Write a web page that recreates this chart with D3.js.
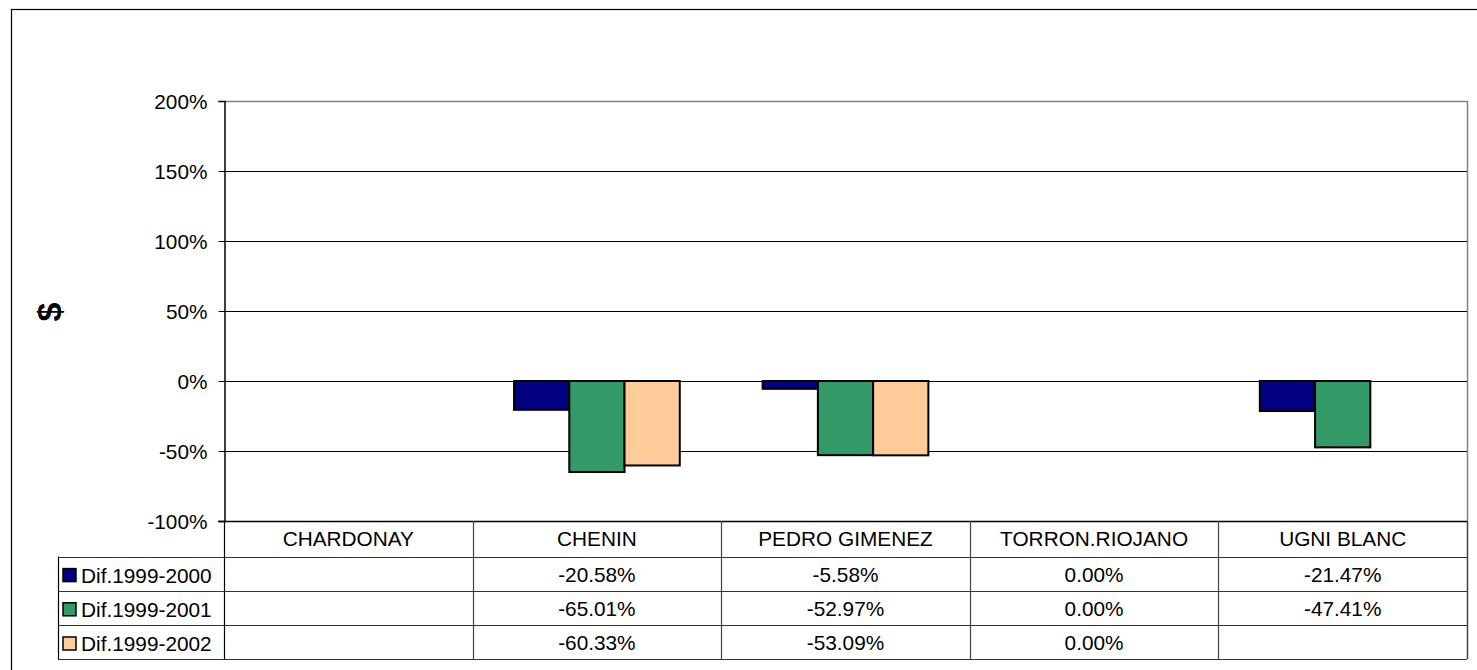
<!DOCTYPE html>
<html>
<head>
<meta charset="utf-8">
<script src="https://cdn.jsdelivr.net/npm/d3@7"></script>
<style>
  body { margin: 0; background: #fff; }
  svg { display: block; font-family: "Liberation Sans", Arial, sans-serif; }
</style>
</head>
<body>
<script>
// datos
var categories = ["CHARDONAY", "CHENIN", "PEDRO GIMENEZ", "TORRON.RIOJANO", "UGNI BLANC"];
var seriesNames = ["Dif.1999-2000", "Dif.1999-2001", "Dif.1999-2002"];
var dif2000 = [null, -20.58, -5.58, 0.00, -21.47];
var dif2001 = [null, -65.01, -52.97, 0.00, -47.41];
var dif2002 = [null, -60.33, -53.09, 0.00, null];
var yTicks = [-100, -50, 0, 50, 100, 150, 200];
var colors = ["#000080", "#339966", "#FFCC99"];

var values = [dif2000, dif2001, dif2002];

var W = 1477, H = 670;
var plot = {left: 224, right: 1467, top: 101, bottom: 521};
var rowH = 34.2, headerH = 35.5, legendLeft = 58;
var fs = 20.8;

var svg = d3.select("body").append("svg")
    .attr("width", W)
    .attr("height", H);

// marco exterior
svg.append("rect")
    .attr("x", 11.5).attr("y", 9.5)
    .attr("width", W + 20).attr("height", H + 20)
    .attr("fill", "none").attr("stroke", "#000").attr("stroke-width", 1.2);

var x0 = d3.scaleBand()
    .domain(categories)
    .range([plot.left, plot.right]);

var x1 = d3.scaleBand()
    .domain(seriesNames)
    .range([0, x0.bandwidth()])
    .paddingInner(0)
    .paddingOuter(0.75);

var y = d3.scaleLinear()
    .domain([-100, 200])
    .range([plot.bottom, plot.top]);

// borde gris del area
svg.append("path")
    .attr("d", "M" + plot.left + "," + (plot.top + 0.5) + "H" + (plot.right + 0.5) + "V" + plot.bottom)
    .attr("fill", "none").attr("stroke", "#808080").attr("stroke-width", 1.5);

// lineas de grilla
svg.append("g")
    .selectAll("line")
    .data(yTicks.filter(function(t) { return t > -100 && t < 200; }))
    .enter().append("line")
    .attr("x1", plot.left).attr("x2", plot.right)
    .attr("y1", function(d) { return Math.round(y(d)) + 0.5; })
    .attr("y2", function(d) { return Math.round(y(d)) + 0.5; })
    .attr("stroke", "#000").attr("stroke-width", 1);

// eje y
var yAxis = d3.axisLeft(y)
    .tickValues(yTicks)
    .tickSize(6)
    .tickPadding(11)
    .tickFormat(function(d) { return d + "%"; });

var gy = svg.append("g")
    .attr("transform", "translate(" + (plot.left + 0.5) + ",0)")
    .call(yAxis);
gy.select(".domain").attr("stroke", "#000").attr("stroke-width", 1.5);
gy.selectAll(".tick line").attr("stroke", "#000");
gy.selectAll(".tick text")
    .attr("fill", "#000")
    .style("font-size", fs + "px")
    .attr("dy", "0.36em");

// barras
var groups = svg.append("g")
    .selectAll("g")
    .data(seriesNames)
    .enter().append("g")
    .attr("fill", function(d, i) { return colors[i]; });

groups.selectAll("rect")
    .data(function(s, si) {
        return categories.map(function(c, ci) { return {cat: c, s: s, v: values[si][ci]}; })
            .filter(function(d) { return d.v !== null && d.v !== 0; });
    })
    .enter().append("rect")
    .attr("x", function(d) { return x0(d.cat) + x1(d.s); })
    .attr("width", x1.bandwidth())
    .attr("y", function(d) { return Math.min(y(0), y(d.v)); })
    .attr("height", function(d) { return Math.abs(y(d.v) - y(0)); })
    .attr("stroke", "#000")
    .attr("stroke-width", 2);

// eje inferior (-100%)
svg.append("line")
    .attr("x1", plot.left - 6).attr("x2", plot.right)
    .attr("y1", plot.bottom + 0.5).attr("y2", plot.bottom + 0.5)
    .attr("stroke", "#000").attr("stroke-width", 1.5);

// titulo eje y
svg.append("text")
    .attr("transform", "translate(49,312) rotate(-90)")
    .attr("text-anchor", "middle")
    .attr("dy", "0.35em")
    .style("font-size", "34px")
    .style("font-weight", "bold")
    .text("$");

// tabla de datos
var table = svg.append("g");
var tableTop = plot.bottom;
var rowsTop = tableTop + headerH;

// encabezados de categoria
table.selectAll(".cat")
    .data(categories)
    .enter().append("text")
    .attr("class", "cat")
    .attr("x", function(d) { return x0(d) + x0.bandwidth() / 2; })
    .attr("y", tableTop + headerH / 2)
    .attr("dy", "0.36em")
    .attr("text-anchor", "middle")
    .style("font-size", fs + "px")
    .text(function(d) { return d; });

// separadores verticales
table.selectAll(".vsep")
    .data(categories.slice(1))
    .enter().append("line")
    .attr("x1", function(d) { return Math.round(x0(d)) + 0.5; })
    .attr("x2", function(d) { return Math.round(x0(d)) + 0.5; })
    .attr("y1", tableTop)
    .attr("y2", rowsTop + 3 * rowH)
    .attr("stroke", "#444").attr("stroke-width", 1.2);

table.append("line")
    .attr("x1", plot.right + 0.5).attr("x2", plot.right + 0.5)
    .attr("y1", tableTop).attr("y2", rowsTop + 3 * rowH)
    .attr("stroke", "#444").attr("stroke-width", 1.5);
table.append("line")
    .attr("x1", plot.left + 0.5).attr("x2", plot.left + 0.5)
    .attr("y1", tableTop).attr("y2", rowsTop + 3 * rowH)
    .attr("stroke", "#000").attr("stroke-width", 1.2);
table.append("line")
    .attr("x1", legendLeft + 0.5).attr("x2", legendLeft + 0.5)
    .attr("y1", rowsTop).attr("y2", rowsTop + 3 * rowH)
    .attr("stroke", "#000").attr("stroke-width", 1.2);

// lineas horizontales
table.selectAll(".hsep")
    .data([0, 1, 2, 3])
    .enter().append("line")
    .attr("x1", legendLeft).attr("x2", plot.right)
    .attr("y1", function(d) { return Math.round(rowsTop + d * rowH) + 0.5; })
    .attr("y2", function(d) { return Math.round(rowsTop + d * rowH) + 0.5; })
    .attr("stroke", "#333").attr("stroke-width", 1.2);

// filas
var rows = table.selectAll(".row")
    .data(seriesNames)
    .enter().append("g")
    .attr("class", "row")
    .attr("transform", function(d, i) { return "translate(0," + (rowsTop + i * rowH) + ")"; });

rows.append("rect")
    .attr("x", 63).attr("y", rowH / 2 - 5)
    .attr("width", 13).attr("height", 13)
    .attr("fill", function(d, i) { return colors[i]; })
    .attr("stroke", "#000").attr("stroke-width", 1.5);

rows.append("text")
    .attr("x", 81)
    .attr("y", rowH / 2 + 2)
    .attr("dy", "0.36em")
    .style("font-size", fs + "px")
    .text(function(d) { return d; });

rows.selectAll(".val")
    .data(function(s, si) {
        return categories.map(function(c, ci) { return {cat: c, v: values[si][ci]}; })
            .filter(function(d) { return d.v !== null; });
    })
    .enter().append("text")
    .attr("class", "val")
    .attr("x", function(d) { return x0(d.cat) + x0.bandwidth() / 2; })
    .attr("y", rowH / 2 + 1)
    .attr("dy", "0.36em")
    .attr("text-anchor", "middle")
    .style("font-size", fs + "px")
    .text(function(d) { return d.v.toFixed(2) + "%"; });
</script>
</body>
</html>
